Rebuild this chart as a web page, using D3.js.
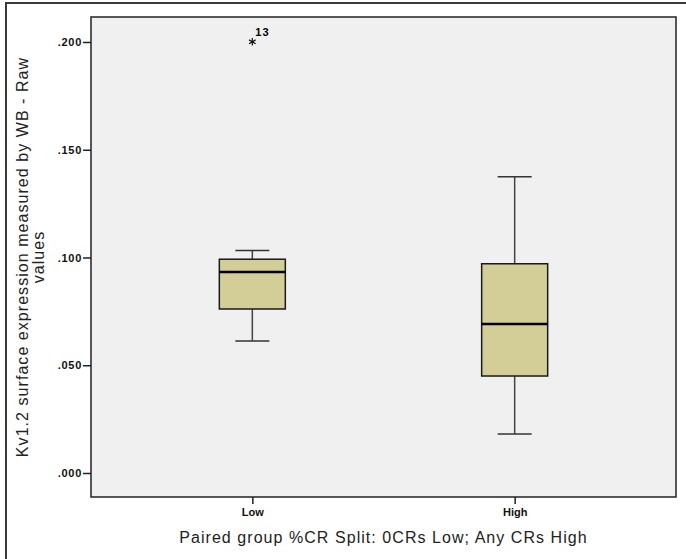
<!DOCTYPE html>
<html>
<head>
<meta charset="utf-8">
<script src="https://cdn.jsdelivr.net/npm/d3@7"></script>
<style>
  body { margin: 0; background: #fff; }
  svg { display: block; }
</style>
</head>
<body>
<script>
// groups and box stats
const groups = ['Low', 'High'];
const whiskerLow = [0.0613, 0.0181];
const q1 = [0.0761, 0.0450];
const median = [0.0933, 0.0691];
const q3 = [0.0992, 0.0971];
const whiskerHigh = [0.1032, 0.1375];
const outliers = [{ group: 'Low', value: 0.2001, label: '13' }];
const yTicks = [0, 0.05, 0.1, 0.15, 0.2];

const w = 686;
const h = 559;
const margin = { left: 91, top: 17, right: 10, bottom: 62 };
const plotW = w - margin.left - margin.right;
const plotH = h - margin.top - margin.bottom;

const data = groups.map((g, i) => ({
  group: g, lo: whiskerLow[i], q1: q1[i], med: median[i], q3: q3[i], hi: whiskerHigh[i],
}));

const svg = d3.select('body')
  .append('svg')
  .attr('width', w)
  .attr('height', h);

// outer frame
svg.append('rect')
  .attr('x', 6).attr('y', 3)
  .attr('width', 720).attr('height', 620)
  .attr('fill', 'none')
  .attr('stroke', '#3a3a3a')
  .attr('stroke-width', 2);

const g = svg.append('g')
  .attr('transform', `translate(${margin.left}, ${margin.top})`);

//scales
const xScale = d3.scalePoint()
  .domain(groups)
  .range([0, plotW])
  .padding(0.615);
const yScale = d3.scaleLinear()
  .domain([-0.01114, 0.2116])
  .range([plotH, 0]);

g.append('rect')
  .attr('width', plotW)
  .attr('height', plotH)
  .attr('fill', '#f0f0f0');

const boxW = 66;
const capW = 34;

//whiskers
const boxes = g.selectAll('.box')
  .data(data)
  .enter()
  .append('g')
  .attr('class', 'box')
  .attr('transform', (d) => `translate(${xScale(d.group)}, 0)`);

boxes.append('line')
  .attr('y1', (d) => yScale(d.hi)).attr('y2', (d) => yScale(d.q3))
  .attr('stroke', '#444').attr('stroke-width', 1.5);
boxes.append('line')
  .attr('y1', (d) => yScale(d.q1)).attr('y2', (d) => yScale(d.lo))
  .attr('stroke', '#444').attr('stroke-width', 1.5);
['hi', 'lo'].forEach((k) => {
  boxes.append('line')
    .attr('x1', -capW / 2).attr('x2', capW / 2)
    .attr('y1', (d) => yScale(d[k])).attr('y2', (d) => yScale(d[k]))
    .attr('stroke', '#333').attr('stroke-width', 1.5);
});

boxes.append('rect')
  .attr('x', -boxW / 2)
  .attr('y', (d) => yScale(d.q3))
  .attr('width', boxW)
  .attr('height', (d) => yScale(d.q1) - yScale(d.q3))
  .attr('fill', '#d3ce98')
  .attr('stroke', '#1a1a1a')
  .attr('stroke-width', 1.5);

boxes.append('line')
  .attr('x1', -boxW / 2).attr('x2', boxW / 2)
  .attr('y1', (d) => yScale(d.med)).attr('y2', (d) => yScale(d.med))
  .attr('stroke', '#000').attr('stroke-width', 2.5);

//outliers
const out = g.selectAll('.out')
  .data(outliers)
  .enter()
  .append('g')
  .attr('class', 'out')
  .attr('transform', (d) => `translate(${xScale(d.group)}, ${yScale(d.value)})`);
out.append('path')
  .attr('d', d3.symbol(d3.symbolAsterisk, 40))
  .attr('fill', 'none')
  .attr('stroke', '#111')
  .attr('stroke-width', 1.2);
out.append('text')
  .attr('x', 3).attr('y', -6)
  .attr('font-family', 'Liberation Sans, Arial, sans-serif')
  .attr('font-size', 11)
  .attr('font-weight', 'bold')
  .attr('letter-spacing', 1)
  .text((d) => d.label);

// plot border
g.append('rect')
  .attr('width', plotW)
  .attr('height', plotH)
  .attr('fill', 'none')
  .attr('stroke', '#222')
  .attr('stroke-width', 1.5);

//axes
const yAxis = d3.axisLeft(yScale)
  .tickValues(yTicks)
  .tickSize(8)
  .tickPadding(1)
  .tickFormat((d) => d3.format('.3f')(d).replace(/^0/, ''));
const yg = g.append('g').call(yAxis);
yg.select('.domain').remove();

const xAxis = d3.axisBottom(xScale).tickSize(7).tickPadding(4);
const xg = g.append('g')
  .attr('transform', `translate(0, ${plotH})`)
  .call(xAxis);
xg.select('.domain').remove();

[yg, xg].forEach((a) => {
  a.selectAll('line').attr('stroke', '#222').attr('stroke-width', 1.5);
  a.selectAll('text')
    .attr('font-family', 'Liberation Sans, Arial, sans-serif')
    .attr('font-size', 11)
    .attr('font-weight', 'bold')
    .attr('fill', '#111');
});
yg.selectAll('text').attr('letter-spacing', 0.7);

// axis titles
svg.append('text')
  .attr('x', margin.left + plotW / 2)
  .attr('y', 543)
  .attr('text-anchor', 'middle')
  .attr('font-family', 'Liberation Sans, Arial, sans-serif')
  .attr('font-size', 16)
  .attr('letter-spacing', 1.05)
  .attr('fill', '#222')
  .text('Paired group %CR Split: 0CRs Low; Any CRs High');

const yTitle = svg.append('text')
  .attr('transform', `translate(28, ${margin.top + plotH / 2}) rotate(-90)`)
  .attr('text-anchor', 'middle')
  .attr('font-family', 'Liberation Sans, Arial, sans-serif')
  .attr('font-size', 16)
  .attr('letter-spacing', 1.05)
  .attr('fill', '#222');
yTitle.append('tspan').attr('x', 0).attr('y', 0)
  .text('Kv1.2 surface expression measured by WB - Raw');
yTitle.append('tspan').attr('x', 0).attr('dy', 16).text('values');
</script>
</body>
</html>
